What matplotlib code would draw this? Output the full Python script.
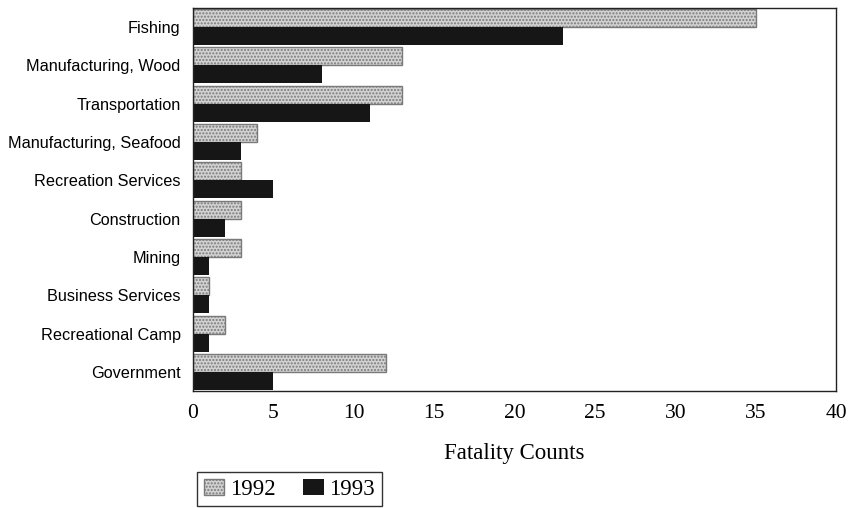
import numpy as np
import matplotlib.pyplot as plt

categories = ['Fishing', 'Manufacturing, Wood', 'Transportation',
              'Manufacturing, Seafood', 'Recreation Services', 'Construction',
              'Mining', 'Business Services', 'Recreational Camp', 'Government']
counts_1992 = [35, 13, 13, 4, 3, 3, 3, 1, 2, 12]
counts_1993 = [23, 8, 11, 3, 5, 2, 1, 1, 1, 5]
xticks = [0, 5, 10, 15, 20, 25, 30, 35, 40]

fig = plt.figure(figsize=(8.48, 5.08), dpi=100)
ax = fig.add_axes([0.2276, 0.2303, 0.7582, 0.754])

y = np.arange(len(categories))
h = 0.47
ax.barh(y - h / 2, counts_1992, height=h, facecolor='#d2d2d2',
        edgecolor='#7a7a7a', hatch='.....', linewidth=1, label='1992')
ax.barh(y + h / 2, counts_1993, height=h, color='#161616', label='1993')

ax.set_ylim(9.5, -0.5)
ax.set_xlim(0, 40)
ax.set_yticks(y)
ax.set_yticklabels(categories, fontfamily='Liberation Sans', fontsize=11.7)
ax.set_xticks(xticks)
ax.set_xticklabels([str(t) for t in xticks], fontfamily='Liberation Serif', fontsize=15.5)
ax.tick_params(axis='y', length=0, pad=9)
ax.tick_params(axis='x', length=0, pad=9)
ax.set_xlabel('Fatality Counts', fontfamily='Liberation Serif', fontsize=16.5, labelpad=15)
for s in ax.spines.values():
    s.set_linewidth(1)
    s.set_color('#222222')

leg = fig.legend(loc='lower left', bbox_to_anchor=(0.232, 0.003), ncol=2,
                 prop={'family': 'Liberation Serif', 'size': 16.5},
                 frameon=True, fancybox=False, edgecolor='black',
                 handlelength=0.9, handleheight=0.7, handletextpad=0.25,
                 columnspacing=1.2, borderpad=0.3, borderaxespad=0)
leg.get_frame().set_linewidth(1)

fig.savefig('out.png', dpi=100)
